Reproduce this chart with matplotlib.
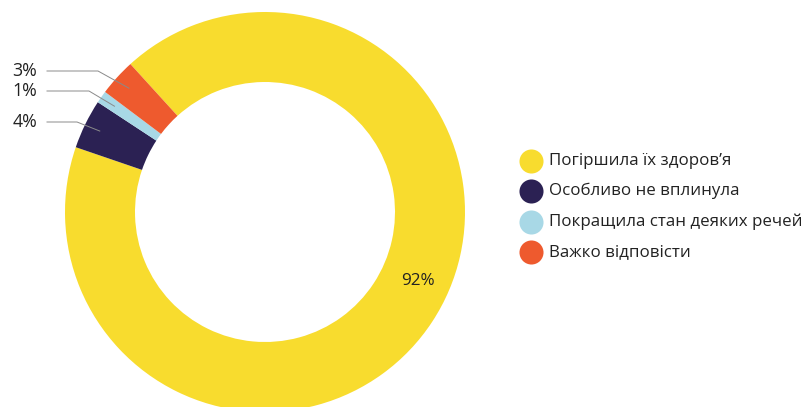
import numpy as np
import matplotlib.pyplot as plt

plt.rcParams['font.family'] = ['Open Sans', 'DejaVu Sans']

categories = ['Погіршила їх здоров’я', 'Особливо не вплинула',
              'Покращила стан деяких речей', 'Важко відповісти']
values = [92, 4, 1, 3]
labels = ['92%', '4%', '1%', '3%']
colors = ['#F8DC2E', '#2B2153', '#A8D8E6', '#EE5A2E']

W, H = 807, 407
fig = plt.figure(figsize=(W / 100, H / 100), dpi=100)
ax = fig.add_axes([0, 0, 1, 1])

cx, cy, R, ring = 265, H - 212, 200, 70
start = 132.3
wedges, _ = ax.pie(values, colors=colors, startangle=start, counterclock=False,
                   center=(cx, cy), radius=R,
                   wedgeprops=dict(width=ring, linewidth=0))
ax.set_xlim(0, W)
ax.set_ylim(0, H)
ax.set_aspect('auto')
ax.axis('off')

# big slice label sits inside the ring
a = np.deg2rad(-24.3)
ax.text(cx + 168 * np.cos(a), cy + 168 * np.sin(a), labels[0],
        ha='center', va='center', fontsize=12.3, color='#222222')

# small slices get labels on the left with leader lines
text_y = {1: H - 122, 2: H - 91, 3: H - 71}
elbow_x = {1: 77, 2: 89, 3: 98}
for i in (1, 2, 3):
    w = wedges[i]
    mid = np.deg2rad((w.theta1 + w.theta2) / 2)
    px, py = cx + 184 * np.cos(mid), cy + 184 * np.sin(mid)
    ty = text_y[i]
    ax.plot([47, elbow_x[i], px], [ty, ty, py], color='#8a8a8a', lw=0.7)
    ax.text(37, ty, labels[i], ha='right', va='center', fontsize=12.8,
            color='#222222')

# legend
row_y = [161, 191, 222, 252]
for name, col, y in zip(categories, colors, row_y):
    ax.scatter([531], [H - y], s=300, color=col, linewidths=0)
    ax.text(549, H - y, name, ha='left', va='center', fontsize=12.2,
            color='#222222')

fig.savefig('out.png', dpi=100)
